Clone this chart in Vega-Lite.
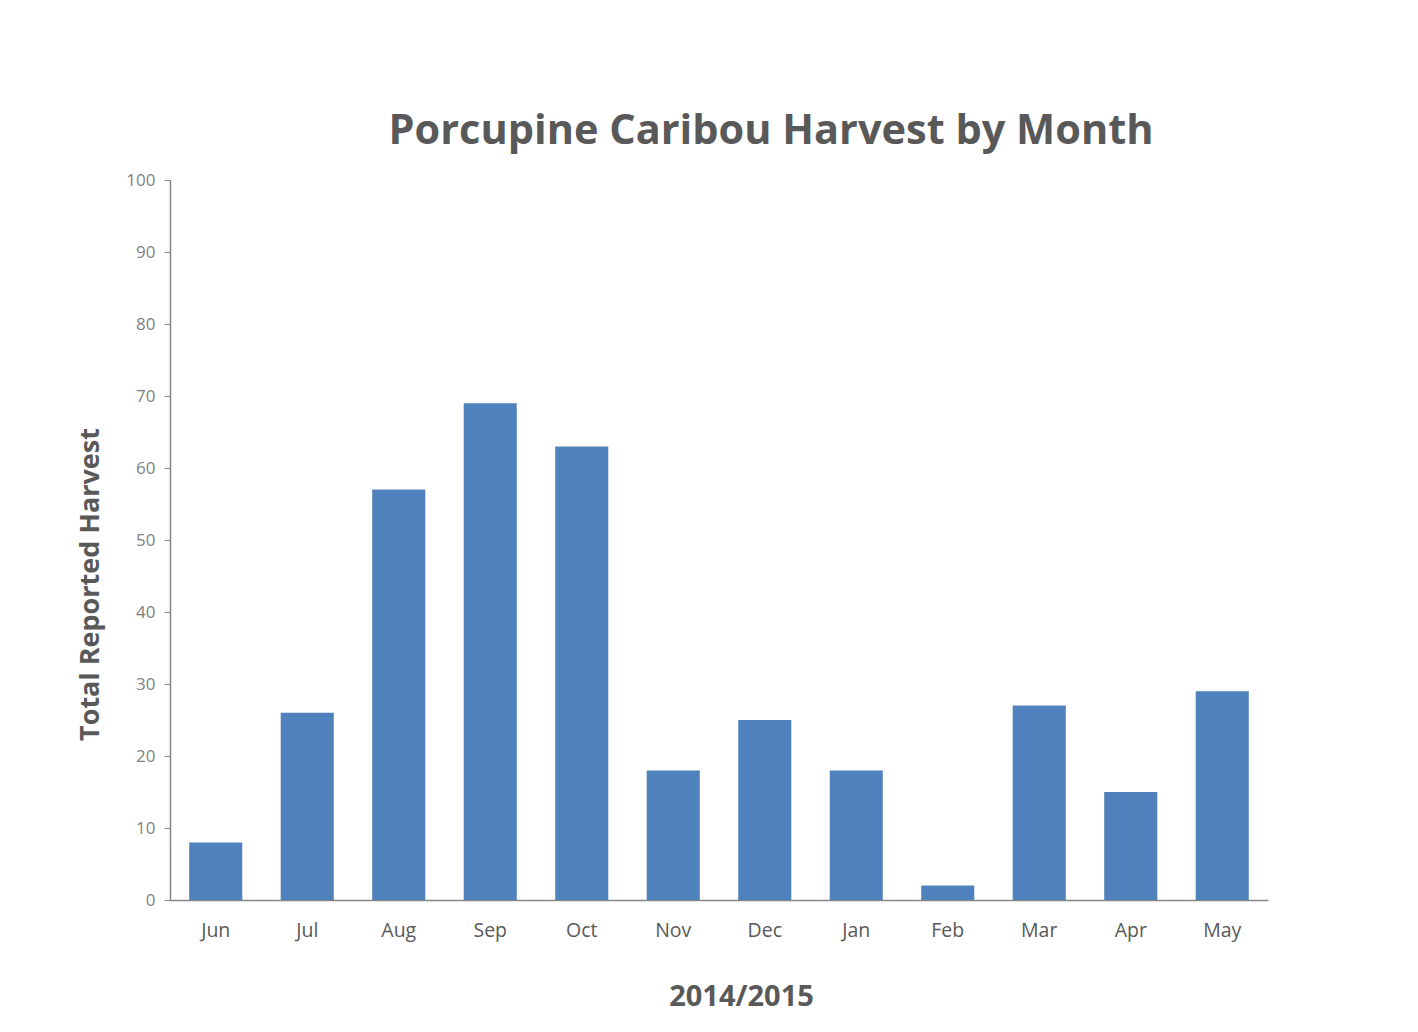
{
  "$schema": "https://vega.github.io/schema/vega-lite/v6.json",
  "autosize": {"type": "none"},
  "width": 1098,
  "height": 720,
  "padding": {"left": 170, "top": 180, "right": 150, "bottom": 132},
  "background": "white",
  "config": {"view": {"stroke": null}, "font": "Open Sans"},
  "title": {
    "text": "Porcupine Caribou Harvest by Month",
    "font": "Open Sans",
    "fontSize": 41.5,
    "fontWeight": "bold",
    "color": "#595959",
    "anchor": "middle",
    "dx": 52,
    "offset": 19
  },
  "data": {
    "values": [
      {"month": "Jun", "harvest": 8},
      {"month": "Jul", "harvest": 26},
      {"month": "Aug", "harvest": 57},
      {"month": "Sep", "harvest": 69},
      {"month": "Oct", "harvest": 63},
      {"month": "Nov", "harvest": 18},
      {"month": "Dec", "harvest": 25},
      {"month": "Jan", "harvest": 18},
      {"month": "Feb", "harvest": 2},
      {"month": "Mar", "harvest": 27},
      {"month": "Apr", "harvest": 15},
      {"month": "May", "harvest": 29}
    ]
  },
  "mark": {"type": "bar", "color": "#4f81bd"},
  "encoding": {
    "x": {
      "field": "month",
      "type": "nominal",
      "sort": null,
      "scale": {"paddingInner": 0.42, "paddingOuter": 0.21},
      "axis": {
        "title": "2014/2015",
        "titleFont": "Open Sans",
        "titleFontSize": 29,
        "titleFontWeight": "bold",
        "titleColor": "#595959",
        "titlePadding": 43,
        "titleX": 571,
        "labelAngle": 0,
        "labelFont": "Open Sans",
        "labelFontSize": 19.5,
        "labelColor": "#595959",
        "labelPadding": 21,
        "ticks": false,
        "domainColor": "#868686",
        "domainWidth": 1.5
      }
    },
    "y": {
      "field": "harvest",
      "type": "quantitative",
      "scale": {"domain": [0, 100], "nice": false},
      "axis": {
        "title": "Total Reported Harvest",
        "titleFont": "Open Sans",
        "titleFontSize": 27,
        "titleFontWeight": "bold",
        "titleColor": "#595959",
        "titlePadding": 21,
        "titleY": 404,
        "values": [0, 10, 20, 30, 40, 50, 60, 70, 80, 90, 100],
        "labelFont": "Open Sans",
        "labelFontSize": 17,
        "labelColor": "#7f7f7f",
        "labelPadding": 9,
        "tickSize": 6,
        "tickColor": "#868686",
        "domainColor": "#868686",
        "domainWidth": 1.5,
        "grid": false
      }
    }
  }
}
